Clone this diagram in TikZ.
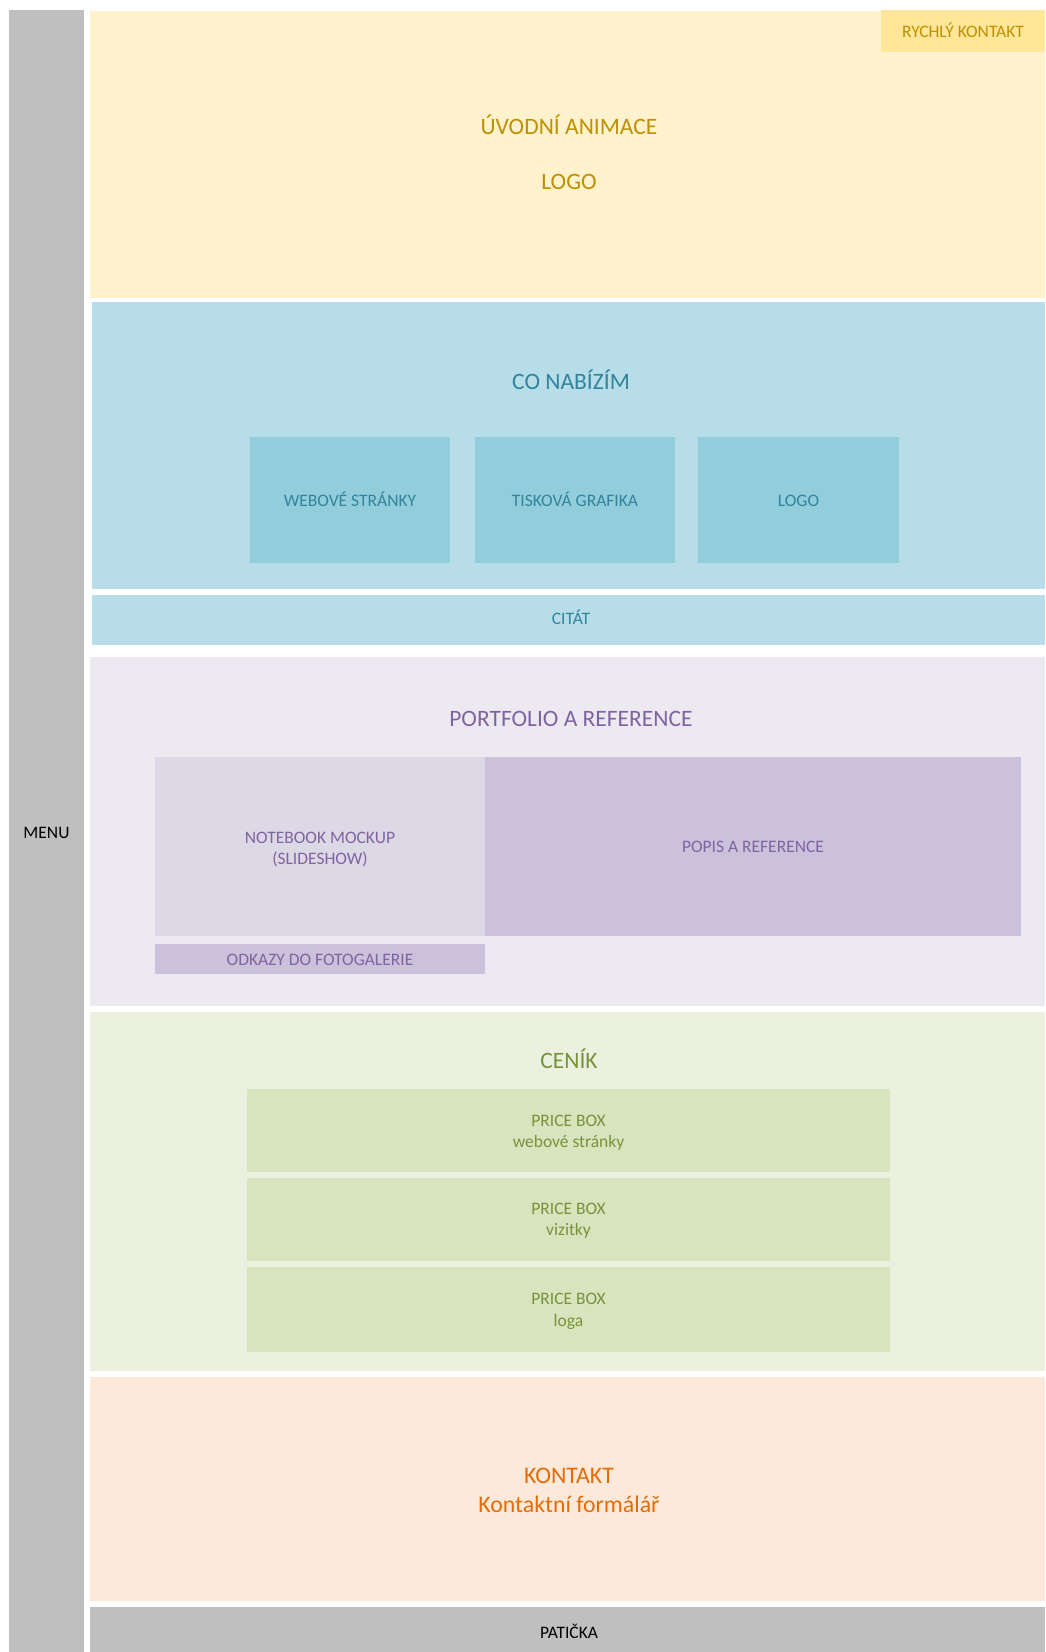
\documentclass[tikz,border=0pt]{standalone}
\usepackage{fontspec}
\setmainfont{Carlito}
\definecolor{gry}{HTML}{BFBFBF}
\definecolor{ylbg}{HTML}{FFF2CC}
\definecolor{ylbox}{HTML}{FFE699}
\definecolor{yltx}{HTML}{BF9000}
\definecolor{blbg}{HTML}{B7DDE8}
\definecolor{blbox}{HTML}{92CDDC}
\definecolor{bltx}{HTML}{31849B}
\definecolor{pubg}{HTML}{ECE9F1}
\definecolor{pubox}{HTML}{DDD8E6}
\definecolor{pubox2}{HTML}{CCC1DA}
\definecolor{putx}{HTML}{8064A2}
\definecolor{grbg}{HTML}{EBF1DE}
\definecolor{grbox}{HTML}{D7E4BD}
\definecolor{grtx}{HTML}{77933C}
\definecolor{orbg}{HTML}{FDE9D9}
\definecolor{ortx}{HTML}{E46C0A}
\tikzset{
  area/.style={anchor=north west, inner sep=0pt, outer sep=0pt, draw=none},
  big/.style={anchor=base, inner sep=0pt, yshift=-1pt, font=\fontsize{23.5}{28}\selectfont},
  small/.style={anchor=base, inner sep=0pt, yshift=-1pt, font=\fontsize{17.5}{21}\selectfont},
  kont/.style={big, font=\fontsize{23.8}{28}\selectfont},
}
\newcommand{\area}[6]{\node[area, fill=#2, minimum width=#5pt, minimum height=#6pt] (#1) at (#3,#4) {};}
\begin{document}
\begin{tikzpicture}[x=1pt,y=-1pt]
\useasboundingbox[fill=white] (0,0) rectangle (1045,1652);
% menu
\area{menu}{gry}{9}{10}{75}{1642}
\node[small, text=black] (menutx) at (46.5,837) {MENU};
% intro
\area{intro}{ylbg}{90}{11}{955}{287}
\area{quick}{ylbox}{881}{10}{164}{42}
\node[small, text=yltx] (quicktx) at (963,36) {RYCHLÝ KONTAKT};
\node[big, text=yltx] (introtx) at (569,133) {ÚVODNÍ ANIMACE};
\node[big, text=yltx] (logotx) at (569,188) {LOGO};
% offer
\area{offer}{blbg}{92}{302}{953}{287}
\node[big, text=bltx] (offertx) at (571,388) {CO NABÍZÍM};
\area{web}{blbox}{250}{437}{200}{126}
\area{print}{blbox}{475}{437}{200}{126}
\area{logo}{blbox}{698}{437}{201}{126}
\node[small, text=bltx] (webtx) at (350,505) {WEBOVÉ STRÁNKY};
\node[small, text=bltx] (printtx) at (575,505) {TISKOVÁ GRAFIKA};
\node[small, text=bltx] (logotx2) at (798.5,505) {LOGO};
\area{quote}{blbg}{92}{595}{953}{50}
\node[small, text=bltx] (quotetx) at (571,623) {CITÁT};
% portfolio
\area{port}{pubg}{90}{657}{955}{349}
\node[big, text=putx] (porttx) at (571,725) {PORTFOLIO A REFERENCE};
\area{note}{pubox}{155}{757}{330}{179}
\area{desc}{pubox2}{485}{757}{536}{179}
\node[small, text=putx] (notetx1) at (320,842) {NOTEBOOK MOCKUP};
\node[small, text=putx] (notetx2) at (320,863) {(SLIDESHOW)};
\node[small, text=putx] (desctx) at (753,851) {POPIS A REFERENCE};
\area{links}{pubox2}{155}{944}{330}{30}
\node[small, text=putx] (linkstx) at (320,964) {ODKAZY DO FOTOGALERIE};
% pricing
\area{price}{grbg}{90}{1012}{955}{359}
\node[big, text=grtx] (pricetx) at (569,1067) {CENÍK};
\area{pb1}{grbox}{247}{1089}{643}{83}
\area{pb2}{grbox}{247}{1178}{643}{83}
\area{pb3}{grbox}{247}{1267}{643}{85}
\node[small, text=grtx] (pb1a) at (568.5,1125) {PRICE BOX};
\node[small, text=grtx] (pb1b) at (568.5,1146) {webové stránky};
\node[small, text=grtx] (pb2a) at (568.5,1213) {PRICE BOX};
\node[small, text=grtx] (pb2b) at (568.5,1234) {vizitky};
\node[small, text=grtx] (pb3a) at (568.5,1303) {PRICE BOX};
\node[small, text=grtx] (pb3b) at (568.5,1325) {loga};
% contact
\area{contact}{orbg}{90}{1377}{955}{224}
\node[kont, text=ortx] (contacttx) at (569,1482) {KONTAKT};
\node[kont, text=ortx] (formtx) at (569,1511) {Kontaktní formálář};
% footer
\area{foot}{gry}{90}{1607}{955}{45}
\node[small, text=black] (foottx) at (569,1637) {PATIČKA};
\end{tikzpicture}
\end{document}
